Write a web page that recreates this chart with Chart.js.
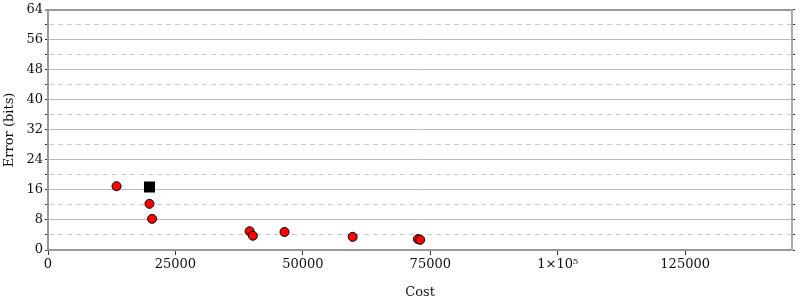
<!DOCTYPE html>
<html>
<head>
<meta charset="utf-8">
<script src="https://cdn.jsdelivr.net/npm/chart.js@4/dist/chart.umd.min.js"></script>
<style>
  body { margin: 0; background: #fff; }
  #wrap { width: 800px; height: 300px; }
</style>
</head>
<body>
<div id="wrap"><canvas id="chart"></canvas></div>
<script>
// data
const circleCost  = [13450, 19910, 20420, 39550, 40190, 46400, 59770, 72570, 73020];
const circleError = [17.0, 12.3, 8.3, 5.0, 3.8, 4.8, 3.5, 2.9, 2.7];
const squareCost  = [19910];
const squareError = [16.8];
const xTicks = [0, 25000, 50000, 75000, 100000, 125000];
const xTickLabels = ['0', '25000', '50000', '75000', '1×10⁵', '125000'];

const FONT = { family: '"DejaVu Serif", serif', size: 13 };
const TEXT = '#111';

const toPts = (xs, ys) => xs.map((x, i) => ({ x: x, y: ys[i] }));

new Chart(document.getElementById('chart'), {
    type: 'scatter',
    data: {
        datasets: [{
            data: toPts(circleCost, circleError),
            pointStyle: 'circle',
            pointRadius: 4.5,
            backgroundColor: '#ff0000',
            borderColor: '#000',
            borderWidth: 1
        }, {
            data: toPts(squareCost, squareError),
            pointStyle: 'rect',
            pointRadius: 7.8,
            backgroundColor: '#000',
            borderColor: '#000',
            borderWidth: 0
        }]
    },
    options: {
        responsive: true,
        maintainAspectRatio: false,
        animation: false,
        layout: { padding: { top: 7, left: 0, right: 0, bottom: 0 } },
        plugins: { legend: { display: false }, tooltip: { enabled: false } },
        scales: {
            x: {
                type: 'linear',
                min: 0,
                max: 146000,
                afterBuildTicks: (s) => { s.ticks = xTicks.map(v => ({ value: v })); },
                afterFit: (s) => { s.height = 50; },
                ticks: {
                    color: TEXT,
                    font: FONT,
                    padding: 2,
                    maxRotation: 0,
                    autoSkip: false,
                    callback: (v) => {
                        const i = xTicks.indexOf(v);
                        return i >= 0 ? xTickLabels[i] : '';
                    }
                },
                grid: {
                    drawOnChartArea: false,
                    tickLength: 5,
                    tickColor: '#333',
                    tickWidth: 1
                },
                border: { color: '#999', width: 2 },
                title: {
                    display: true,
                    text: 'Cost',
                    color: TEXT,
                    font: FONT,
                    padding: { top: 6, bottom: 0 }
                }
            },
            y: {
                type: 'linear',
                min: 0,
                max: 64,
                afterFit: (s) => { s.width = 48; },
                ticks: {
                    stepSize: 4,
                    color: TEXT,
                    font: FONT,
                    padding: 2,
                    autoSkip: false,
                    callback: (v) => (v % 8 === 0 ? String(v) : '')
                },
                grid: {
                    color: (c) => {
                        if (!c.tick) return '#bbb';
                        if (c.tick.value === 64) return '#999';
                        return c.tick.value % 8 === 0 ? '#bbb' : '#ccc';
                    },
                    lineWidth: (c) => (c.tick && c.tick.value === 64 ? 2 : 1),
                    tickLength: (c) => (c.tick && c.tick.value % 8 === 0 ? 5 : 3),
                    tickColor: '#333',
                    tickWidth: 1
                },
                border: {
                    color: '#999',
                    width: 2,
                    dash: (c) => (c.tick && c.tick.value % 8 !== 0 ? [5, 4] : [])
                },
                title: {
                    display: true,
                    text: 'Error (bits)',
                    color: TEXT,
                    font: FONT,
                    padding: { top: 2, bottom: 0 }
                }
            },
            y2: {
                type: 'linear',
                position: 'right',
                min: 0,
                max: 64,
                afterFit: (s) => { s.width = 7; },
                ticks: { display: false, stepSize: 4 },
                grid: {
                    drawOnChartArea: false,
                    tickLength: (c) => (c.tick && c.tick.value % 8 === 0 ? 5 : 3),
                    tickColor: '#333',
                    tickWidth: 1
                },
                border: { color: '#aaa', width: 2 }
            }
        }
    }
});
</script>
</body>
</html>
